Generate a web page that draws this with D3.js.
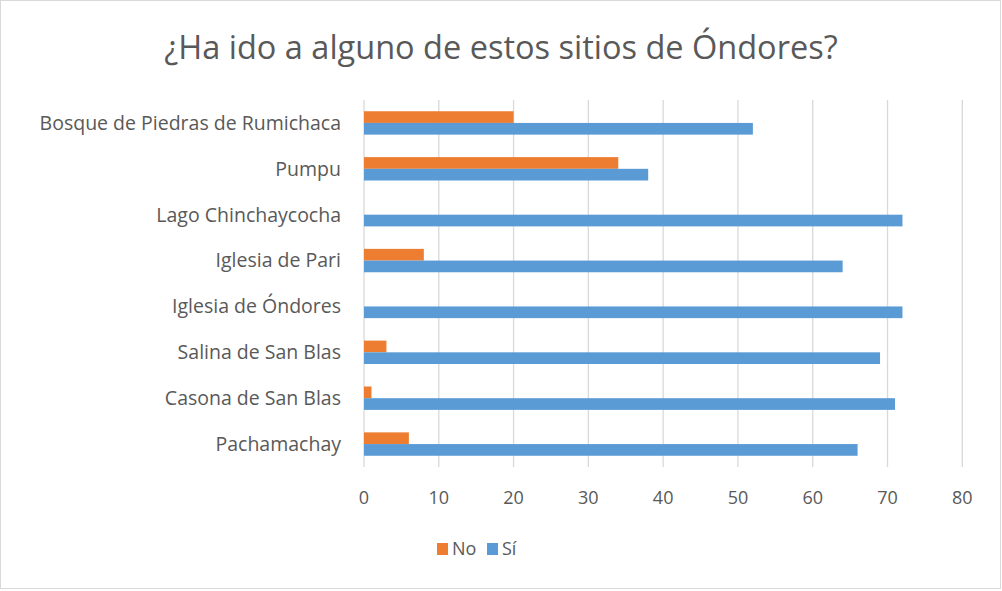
<!DOCTYPE html>
<html>
<head>
<meta charset="utf-8">
<script src="https://cdn.jsdelivr.net/npm/d3@7"></script>
<style>
  body { margin: 0; background: #fff; }
  text { font-family: "Open Sans", Lato, sans-serif; fill: #595959; }
</style>
</head>
<body>
<script>
var categories = ['Bosque de Piedras de Rumichaca', 'Pumpu', 'Lago Chinchaycocha', 'Iglesia de Pari',
                  'Iglesia de Óndores', 'Salina de San Blas', 'Casona de San Blas', 'Pachamachay'];
var seriesNames = ['No', 'Sí'];
var noValues = [20, 34, 0, 8, 0, 3, 1, 6];
var siValues = [52, 38, 72, 64, 72, 69, 71, 66];
var xTicks = [0, 10, 20, 30, 40, 50, 60, 70, 80];
var title = '¿Ha ido a alguno de estos sitios de Óndores?';

var screen = { width: 1002, height: 591 };
var margins = { top: 100, bottom: 124, left: 364, right: 42 };
var colors = { 'No': '#ED7D31', 'Sí': '#5B9BD5' };
var font_size = 18;

var svg = d3.select('body').append('svg')
            .attr('width', screen.width)
            .attr('height', screen.height);

// chart border
svg.append('rect')
   .attr('x', 0.5).attr('y', 0.5)
   .attr('width', 1000).attr('height', 588)
   .attr('fill', '#fff')
   .attr('stroke', '#d9d9d9');

var xScale = d3.scaleLinear()
               .domain([0, 80])
               .range([margins.left, screen.width - margins.right + 2.3]);
var yScale = d3.scaleBand()
               .domain(categories)
               .range([margins.top, screen.height - margins.bottom])
               .paddingInner(0.49)
               .paddingOuter(0.245);
var subScale = d3.scaleBand()
                 .domain(seriesNames)
                 .range([0, yScale.bandwidth()]);

// gridlines
svg.append('g')
   .selectAll('line')
   .data(xTicks)
   .enter()
   .append('line')
   .attr('x1', function(d){ return xScale(d); })
   .attr('x2', function(d){ return xScale(d); })
   .attr('y1', margins.top)
   .attr('y2', screen.height - margins.bottom)
   .attr('stroke', '#d9d9d9')
   .attr('stroke-width', 1.3);

var rows = categories.map(function(c, i){
  return { name: c, values: [{ key: 'No', v: noValues[i] }, { key: 'Sí', v: siValues[i] }] };
});

var groups = svg.selectAll('g.cat')
                .data(rows)
                .enter()
                .append('g')
                .classed('cat', true)
                .attr('transform', function(d){ return 'translate(0,' + yScale(d.name) + ')'; });

groups.selectAll('rect')
      .data(function(d){ return d.values; })
      .enter()
      .append('rect')
      .attr('x', xScale(0))
      .attr('y', function(d){ return subScale(d.key); })
      .attr('width', function(d){ return xScale(d.v) - xScale(0); })
      .attr('height', subScale.bandwidth())
      .attr('fill', function(d){ return colors[d.key]; });

// category labels
svg.append('g')
   .selectAll('text')
   .data(categories)
   .enter()
   .append('text')
   .attr('x', 341)
   .attr('y', function(d){ return yScale(d) + yScale.bandwidth() / 2; })
   .attr('dy', '0.35em')
   .attr('text-anchor', 'end')
   .attr('font-size', '19.5px')
   .text(function(d){ return d; });

// x tick labels
svg.append('g')
   .selectAll('text')
   .data(xTicks)
   .enter()
   .append('text')
   .attr('x', function(d){ return xScale(d); })
   .attr('y', 504)
   .attr('text-anchor', 'middle')
   .attr('font-size', font_size + 'px')
   .text(function(d){ return d; });

// title
svg.append('text')
   .attr('x', 501)
   .attr('y', 59)
   .attr('text-anchor', 'middle')
   .attr('font-size', '32.5px')
   .text(title);

// legend
var legend = svg.append('g').attr('transform', 'translate(437,543)');
var legendX = [0, 50];
legend.selectAll('rect')
      .data(seriesNames)
      .enter()
      .append('rect')
      .attr('x', function(d, i){ return legendX[i]; })
      .attr('y', 0)
      .attr('width', 11)
      .attr('height', 12)
      .attr('fill', function(d){ return colors[d]; });
legend.selectAll('text')
      .data(seriesNames)
      .enter()
      .append('text')
      .attr('x', function(d, i){ return legendX[i] + 15; })
      .attr('y', 6)
      .attr('dy', '0.35em')
      .attr('font-size', font_size + 'px')
      .text(function(d){ return d; });
</script>
</body>
</html>
